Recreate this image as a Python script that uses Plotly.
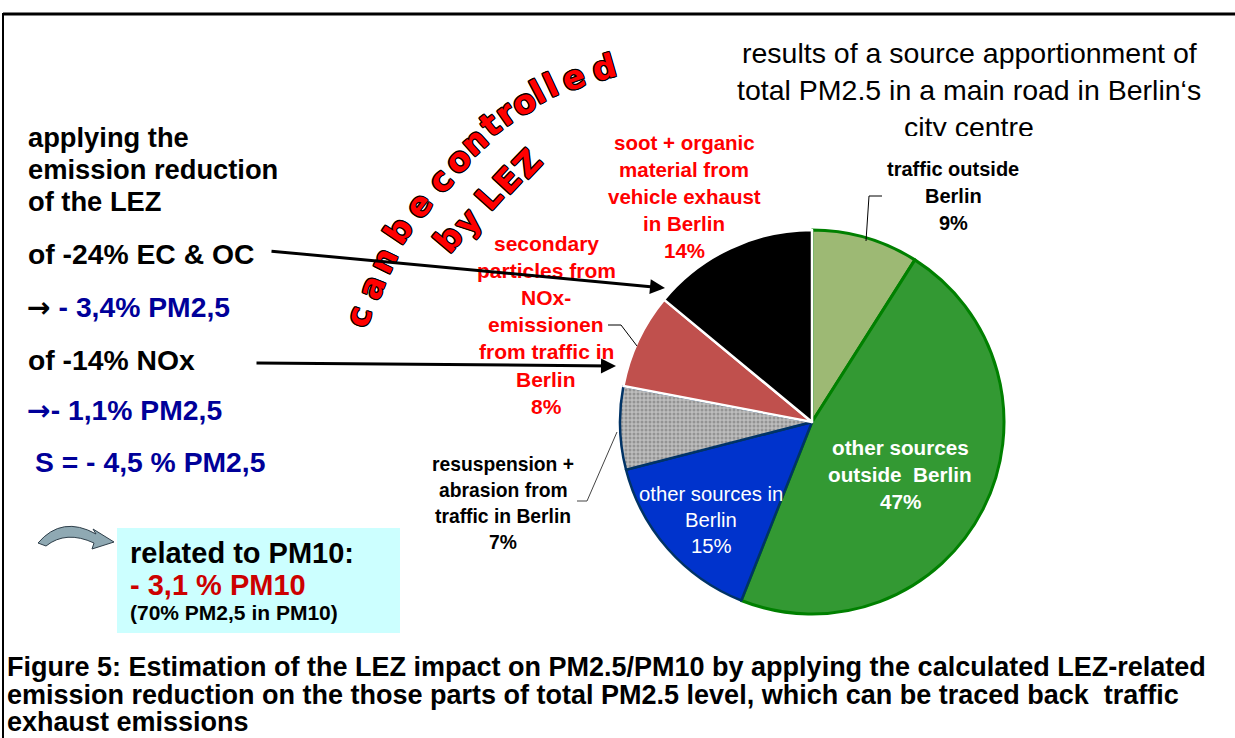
import plotly.graph_objects as go

W, H = 1235, 738

# ---------------- data ----------------
slice_names = [
    "traffic outside Berlin",
    "other sources outside Berlin",
    "other sources in Berlin",
    "resuspension + abrasion from traffic in Berlin",
    "secondary particles from NOx-emissionen from traffic in Berlin",
    "soot + organic material from vehicle exhaust in Berlin",
]
slice_values = [9, 47, 15, 7, 8, 14]
slice_colors = ["#9DB974", "#339933", "#0033CC", "#BDBDBD", "#C0504D", "#000000"]
line_colors = ["#008000", "#008000", "#003366", "#003366", "#FFFFFF", "#FFFFFF"]
line_widths = [3, 3, 2.5, 2.5, 2.5, 2.5]
pattern_shapes = ["", "", "", ".", "", ""]

label_soot = ["soot + organic", "material from", "vehicle exhaust", "in Berlin", "14%"]
label_traffic_out = ["traffic outside", "Berlin", "9%"]
label_secondary = ["secondary", "particles from", "NOx-", "emissionen", "from traffic in", "Berlin", "8%"]
label_resusp = ["resuspension +", "abrasion from", "traffic in Berlin", "7%"]
label_other_in = ["other sources in", "Berlin", "15%"]
label_other_out = ["other sources", "outside  Berlin", "47%"]

title_lines = ["results of a source apportionment of", "total PM2.5 in a main road in Berlin‘s", "city centre"]
caption_lines = [
    "Figure 5: Estimation of the LEZ impact on PM2.5/PM10 by applying the calculated LEZ-related",
    "emission reduction on the those parts of total PM2.5 level, which can be traced back  traffic",
    "exhaust emissions",
]
curved_word1 = "can be controlled"
curved_word2 = "by LEZ"

BLUE = "#000099"
RED = "#FF0000"
FONT = "Liberation Sans, Arial, sans-serif"
ARROWFONT = "DejaVu Sans"

fig = go.Figure()

# pie
cx, cy, r = 812, 422, 192
fig.add_trace(go.Pie(
    labels=slice_names, values=slice_values, sort=False, direction="clockwise",
    rotation=0, textinfo="none", hoverinfo="label+percent",
    marker=dict(colors=slice_colors, line=dict(color=line_colors, width=line_widths),
                pattern=dict(shape=pattern_shapes, fillmode="overlay", fgcolor="#6A6A6A",
                             size=4, solidity=0.45)),
    domain=dict(x=[(cx - r) / W, (cx + r) / W], y=[1 - (cy + r) / H, 1 - (cy - r) / H]),
    showlegend=False,
))

ann = []


def text(x, y, s, size, color="black", bold=True, anchor="left", family=FONT, angle=0, shadow=None):
    f = dict(size=size, color=color, family=family, weight="bold" if bold else "normal")
    if shadow:
        f["shadow"] = shadow
    ann.append(dict(x=x, y=y, xref="x", yref="y", text=s, showarrow=False, font=f,
                    xanchor=anchor, yanchor="middle", textangle=angle))


def block(lines, x, y0, dy, size, color="black", bold=True, anchor="center", family=FONT):
    for i, s in enumerate(lines):
        text(x, y0 + i * dy, s, size, color, bold, anchor, family)


# title (third line clipped at its bottom, as in the original)
block(title_lines[:2], 969, 53, 37, 28.5, bold=False)
ann.append(dict(x=969, y=108.5, xref="x", yref="y", text=title_lines[2], showarrow=False,
                font=dict(size=28.5, color="black", family=FONT), xanchor="center", yanchor="top",
                valign="top", height=25))

# pie labels
block(label_soot, 684, 142, 27, 20.5, RED)
block(label_traffic_out, 953, 169, 27, 20)
block(label_secondary, 546, 243, 27.2, 21, RED)
block(label_resusp, 503, 464, 26.3, 19.3)
block(label_other_in, 711, 494, 26, 20.3, "white", bold=False)
block(label_other_out, 900, 447, 27, 20.7, "white")

# left text
block(["applying the", "emission reduction", "of the LEZ"], 26, 137, 32, 27.3, anchor="left")
text(26, 254, "of -24% EC & OC", 28.3)
text(25, 307, "<span style='font-family:" + ARROWFONT + "'>\u2192</span> "
     "<span style='color:" + BLUE + "'>- 3,4% PM2,5</span>", 28.3)
text(26, 360, "of -14% NOx", 28.3)
text(25, 410, "<span style='font-family:" + ARROWFONT + "'>\u2192</span>- 1,1% PM2,5", 28.3, BLUE)
text(33, 462, "S = - 4,5 % PM2,5", 28.3, BLUE)
text(128, 553, "related to PM10:", 29)
text(128, 585, "- 3,1 % PM10", 29, "#CC0000")
text(128, 612, "(70% PM2,5 in PM10)", 21)

# caption
block(caption_lines, 5, 667, 27.5, 27, anchor="left")

# curved text
outline = ("1px 1px 0 #000, -1px -1px 0 #000, 1px -1px 0 #000, -1px 1px 0 #000, "
           "0 1px 0 #000, 0 -1px 0 #000, 1px 0 0 #000, -1px 0 0 #000")
pos1 = [(358, 316), (371, 287), (383, 260), None, (398, 230), (418, 205), None,
        (440, 180), (457, 160), (474, 141), (490, 124), (505, 113), (523, 102), (537, 92), (550, 85),
        (573, 77), (604, 67)]
ang1 = [-72, -68, -64, 0, -56, -52, 0, -48, -45, -42, -38, -35, -31, -28, -25, -20, -16]
for ch, p, a in zip(curved_word1, pos1, ang1):
    if p is not None:
        text(p[0], p[1], ch, 33, RED, True, "center", "DejaVu Sans, sans-serif", a, outline)
pos2 = [(448, 238), (467, 221), None, (488, 197), (507, 180), (527, 163)]
ang2 = [-50, -49, 0, -48, -47, -46]
for ch, p, a in zip(curved_word2, pos2, ang2):
    if p is not None:
        text(p[0], p[1], ch, 33, RED, True, "center", "DejaVu Sans, sans-serif", a, outline)

# arrows
ann.append(dict(x=665, y=288, ax=270, ay=251, xref="x", yref="y", axref="x", ayref="y",
                text="", showarrow=True, arrowhead=2, arrowwidth=3, arrowsize=1, arrowcolor="black"))
ann.append(dict(x=616, y=366, ax=255, ay=363, xref="x", yref="y", axref="x", ayref="y",
                text="", showarrow=True, arrowhead=2, arrowwidth=3, arrowsize=1, arrowcolor="black"))

shapes = [
    # frame
    dict(type="line", x0=3, y0=14, x1=1235, y1=14, xref="x", yref="y", line=dict(color="black", width=3)),
    dict(type="line", x0=3, y0=13, x1=3, y1=738, xref="x", yref="y", line=dict(color="black", width=2)),
    # cyan box
    dict(type="rect", x0=117, y0=528, x1=400, y1=633, xref="x", yref="y", fillcolor="#CCFFFF",
         line=dict(width=0), layer="below"),
    # leader lines
    dict(type="path", path="M 866 241 L 869 196 L 882 196", xref="x", yref="y", line=dict(color="black", width=1)),
    dict(type="path", path="M 608 325 L 621 325 L 637 346", xref="x", yref="y", line=dict(color="black", width=1)),
    dict(type="path", path="M 577 501 L 587 501 L 617 432", xref="x", yref="y", line=dict(color="#444444", width=1)),
    # curved arrow
    dict(type="path",
         path="M 38 543 Q 62 515 96 534 L 93 529 L 114 542 L 92 549 L 94 543 Q 66 530 46 546 Z",
         xref="x", yref="y", fillcolor="#8FA9B3", line=dict(color="#2F3F4A", width=1)),
]

fig.update_layout(
    width=W, height=H, margin=dict(l=0, r=0, t=0, b=0),
    paper_bgcolor="white", plot_bgcolor="rgba(0,0,0,0)",
    xaxis=dict(range=[0, W], visible=False, fixedrange=True),
    yaxis=dict(range=[H, 0], visible=False, fixedrange=True),
    annotations=ann, shapes=shapes, showlegend=False,
)

fig.write_html("out.html", config={"displayModeBar": False},
               post_script="document.body.style.margin='0';document.body.style.overflow='hidden';")
